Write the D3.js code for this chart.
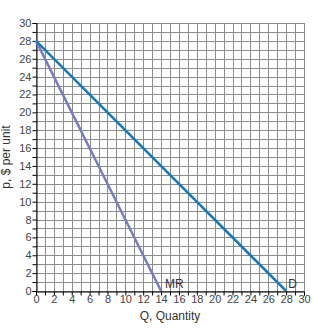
<!DOCTYPE html>
<html>
<head>
<meta charset="utf-8">
<script src="https://cdn.jsdelivr.net/npm/d3@7"></script>
<style>
  body { margin: 0; background: #fff; }
  text { font-family: "Liberation Sans", Arial, sans-serif; }
</style>
</head>
<body>
<script>
// demand and marginal revenue, endpoints
const demandQ = [0, 28];
const demandP = [28, 0];
const mrQ = [0, 14];
const mrP = [28, 0];
const tickVals = d3.range(0, 31, 2);

const width = 314, height = 328;
const margin = {left: 36, right: 10, top: 23, bottom: 37};

const svg = d3.select("body").append("svg")
  .attr("width", width)
  .attr("height", height);

const x = d3.scaleLinear().domain([0, 30]).range([margin.left, width - margin.right]);
const y = d3.scaleLinear().domain([0, 30]).range([height - margin.bottom, margin.top]);

// grid
const grid = svg.append("g").attr("stroke", "#8c8c8c").attr("stroke-width", 1);
d3.range(0, 31).forEach(function (v) {
  grid.append("line")
    .attr("x1", Math.round(x(v)) + 0.5).attr("x2", Math.round(x(v)) + 0.5)
    .attr("y1", y(0)).attr("y2", y(30));
  grid.append("line")
    .attr("y1", Math.round(y(v)) + 0.5).attr("y2", Math.round(y(v)) + 0.5)
    .attr("x1", x(0)).attr("x2", x(30));
});

// axes
const xAxis = svg.append("g")
  .attr("transform", "translate(0," + (Math.round(y(0)) + 0.5) + ")")
  .call(d3.axisBottom(x).tickValues(d3.range(0, 31)).tickSize(4)
    .tickFormat(d => tickVals.includes(d) ? d : ""));
const yAxis = svg.append("g")
  .attr("transform", "translate(" + (Math.round(x(0)) + 0.5) + ",0)")
  .call(d3.axisLeft(y).tickValues(d3.range(0, 31)).tickSize(4)
    .tickFormat(d => tickVals.includes(d) ? d : ""));

[xAxis, yAxis].forEach(function (a) {
  a.select(".domain").attr("stroke", "#000");
  a.selectAll(".tick line").attr("stroke", "#000");
  a.selectAll("text")
    .attr("fill", "#444")
    .style("font-size", "11px")
    .style("font-family", "'Liberation Sans', Arial, sans-serif");
});
xAxis.selectAll("text").attr("dy", "0.6em").attr("y", 5);
yAxis.selectAll("text").attr("x", -5);

// curves
const line = d3.line().x(d => x(d[0])).y(d => y(d[1]));

svg.append("path")
  .datum(d3.zip(mrQ, mrP))
  .attr("d", line)
  .attr("fill", "none")
  .attr("stroke", "#7b7bc4")
  .attr("stroke-width", 2.5);

svg.append("path")
  .datum(d3.zip(demandQ, demandP))
  .attr("d", line)
  .attr("fill", "none")
  .attr("stroke", "#1778ba")
  .attr("stroke-width", 2.5);

// curve labels
svg.append("text")
  .attr("x", x(14) + 4).attr("y", y(0) - 3)
  .attr("fill", "#333").style("font-size", "12px")
  .text("MR");
svg.append("text")
  .attr("x", x(28) + 2).attr("y", y(0) - 3)
  .attr("fill", "#333").style("font-size", "12px")
  .text("D");

// axis titles
svg.append("text")
  .attr("x", (x(0) + x(30)) / 2).attr("y", height - 8)
  .attr("text-anchor", "middle")
  .attr("fill", "#333").style("font-size", "12px")
  .text("Q, Quantity");
svg.append("text")
  .attr("transform", "translate(10," + ((y(0) + y(30)) / 2) + ") rotate(-90)")
  .attr("text-anchor", "middle")
  .attr("fill", "#333").style("font-size", "12px")
  .text("p, $ per unit");
</script>
</body>
</html>
